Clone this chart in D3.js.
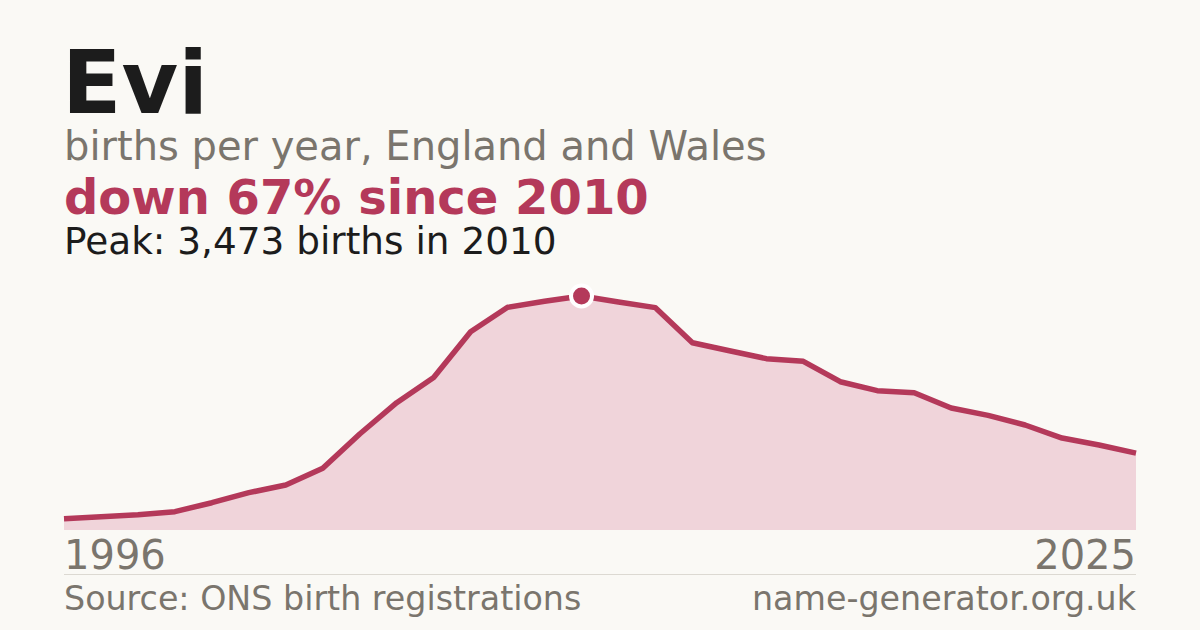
<!DOCTYPE html>
<html><head><meta charset="utf-8">
<script src="https://cdn.jsdelivr.net/npm/d3@7"></script>
<style>
html,body{margin:0;padding:0;background:#faf9f5;}
svg{display:block;}
</style></head>
<body>
<svg id="c" width="1200" height="630"></svg>
<script>
const years = d3.range(1996, 2026);
const births = [168,197,227,272,405,554,668,916,1425,1890,2262,2943,3305,3394,3473,3384,3300,2780,2661,2543,2504,2201,2068,2038,1811,1702,1558,1365,1262,1140];
const title = "Evi";
const subtitle = "births per year, England and Wales";
const headline = "down 67% since 2010";
const peakText = "Peak: 3,473 births in 2010";
const source = "Source: ONS birth registrations";
const site = "name-generator.org.uk";

const data = years.map((y,i)=>({year:y, value:births[i]}));
const svg = d3.select("#c");
const font = "'DejaVu Sans', sans-serif";
const red = "#b4395a";
const gray = "#7a756d";
const dark = "#1c1c1c";

svg.append("rect").attr("width",1200).attr("height",630).attr("fill","#faf9f5");

const x = d3.scaleLinear().domain([1996,2025]).range([64,1136]);
const y = d3.scaleLinear().domain([0,3473]).range([530,296]);

svg.append("path").datum(data)
  .attr("d", d3.area().x(d=>x(d.year)).y0(y(0)).y1(d=>y(d.value)))
  .attr("fill","#f0d4da");
svg.append("path").datum(data)
  .attr("d", d3.line().x(d=>x(d.year)).y(d=>y(d.value)))
  .attr("fill","none").attr("stroke",red).attr("stroke-width",5.5).attr("stroke-linejoin","round");

const peak = data.reduce((a,b)=>b.value>a.value?b:a);
svg.append("circle").attr("cx",x(peak.year)).attr("cy",y(peak.value)).attr("r",10.5)
  .attr("fill",red).attr("stroke","#ffffff").attr("stroke-width",4);

function txt(s, xx, yy, size, color, weight, anchor){
  return svg.append("text").text(s).attr("x",xx).attr("y",yy)
    .attr("font-family",font).attr("font-size",size).attr("fill",color)
    .attr("font-weight",weight||"normal").attr("text-anchor",anchor||"start");
}
txt(title, 62, 113, 87, dark, "bold");
txt(subtitle, 64, 160, 40, gray);
txt(headline, 64, 214, 48, red, "bold");
txt(peakText, 64, 254, 37.4, dark);

txt(String(years[0]), 64, 569, 40, gray);
txt(String(years[years.length-1]), 1136, 569, 40, gray, "normal", "end");
svg.append("line").attr("x1",64).attr("x2",1136).attr("y1",574.5).attr("y2",574.5)
  .attr("stroke","#dcd9d2").attr("stroke-width",1);
txt(source, 64, 610, 33.3, gray);
txt(site, 1136, 610, 33.3, gray, "normal", "end");
</script>
</body></html>
